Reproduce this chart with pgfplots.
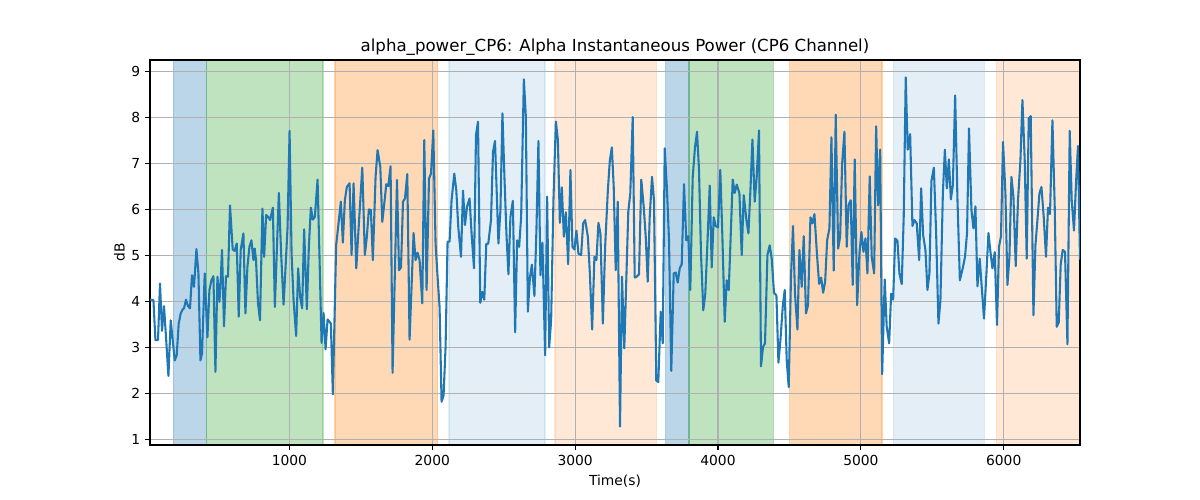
\documentclass[border=0pt]{standalone}
\usepackage{pgfplots}
\pgfplotsset{compat=1.18}
\usepackage{fontspec}
\setmainfont{DejaVu Sans}
\definecolor{tabblue}{HTML}{1F77B4}
\definecolor{tabgreen}{HTML}{2CA02C}
\definecolor{taborange}{HTML}{FF7F0E}
\definecolor{gridgray}{HTML}{B0B0B0}
\begin{document}
\begin{tikzpicture}
\begin{axis}[
  set layers, clip mode=individual,
  at={(0bp,0bp)}, anchor=south west,
  scale only axis, width=669.6bp, height=277.2bp,
  xmin=24, xmax=6534, ymin=0.88, ymax=9.25,
  xtick={1000,2000,3000,4000,5000,6000},
  ytick={1,2,3,4,5,6,7,8,9},
  xtick pos=left, ytick pos=left,
  tick align=outside, major tick length=3.5bp,
  every tick/.style={black, line width=0.8bp},
  grid=major, major grid style={gridgray, line width=0.8bp},
  axis line style={black, line width=0.8bp},
  /pgf/number format/1000 sep={},
  /pgf/number format/assume math mode=true,
  ticklabel style={font=\fontsize{10}{12}\selectfont},
  xlabel={Time(s)}, ylabel={dB},
  label style={font=\fontsize{10}{12}\selectfont},
  xlabel style={yshift=0bp},
  ylabel style={yshift=-2bp},
  title={alpha\_power\_CP6: Alpha Instantaneous Power (CP6 Channel)},
  title style={font=\fontsize{12}{14}\selectfont, yshift=-6.5bp},
]
\addplot[on layer=axis background, fill=tabblue, fill opacity=0.3, draw=tabblue, draw opacity=0.3, line width=1bp] coordinates {(188,0) (188,10) (421,10) (421,0)} \closedcycle;
\addplot[on layer=axis background, fill=tabgreen, fill opacity=0.3, draw=tabgreen, draw opacity=0.3, line width=1bp] coordinates {(421,0) (421,10) (1234,10) (1234,0)} \closedcycle;
\addplot[on layer=axis background, fill=taborange, fill opacity=0.3, draw=taborange, draw opacity=0.3, line width=1bp] coordinates {(1318,0) (1318,10) (2037,10) (2037,0)} \closedcycle;
\addplot[on layer=axis background, fill=tabblue, fill opacity=0.12, draw=tabblue, draw opacity=0.12, line width=1bp] coordinates {(2117,0) (2117,10) (2788,10) (2788,0)} \closedcycle;
\addplot[on layer=axis background, fill=taborange, fill opacity=0.17, draw=taborange, draw opacity=0.17, line width=1bp] coordinates {(2858,0) (2858,10) (3571,10) (3571,0)} \closedcycle;
\addplot[on layer=axis background, fill=tabblue, fill opacity=0.3, draw=tabblue, draw opacity=0.3, line width=1bp] coordinates {(3634,0) (3634,10) (3797,10) (3797,0)} \closedcycle;
\addplot[on layer=axis background, fill=tabgreen, fill opacity=0.3, draw=tabgreen, draw opacity=0.3, line width=1bp] coordinates {(3797,0) (3797,10) (4388,10) (4388,0)} \closedcycle;
\addplot[on layer=axis background, fill=taborange, fill opacity=0.3, draw=taborange, draw opacity=0.3, line width=1bp] coordinates {(4502,0) (4502,10) (5149,10) (5149,0)} \closedcycle;
\addplot[on layer=axis background, fill=tabblue, fill opacity=0.12, draw=tabblue, draw opacity=0.12, line width=1bp] coordinates {(5228,0) (5228,10) (5865,10) (5865,0)} \closedcycle;
\addplot[on layer=axis background, fill=taborange, fill opacity=0.17, draw=taborange, draw opacity=0.17, line width=1bp] coordinates {(5949,0) (5949,10) (6600,10) (6600,0)} \closedcycle;
\addplot[tabblue, line width=1.5bp, line join=round, mark=none] table {
x y
24 4.04
48 4.03
62 3.16
80 3.16
94 4.39
108 3.36
122 3.90
136 3.23
153 2.38
169 3.59
183 3.16
197 2.72
211 2.83
225 3.52
239 3.74
253 3.83
262 3.85
276 4.04
290 3.90
304 3.85
318 4.57
332 4.32
349 5.14
363 4.61
377 2.72
388 2.87
407 4.61
426 3.22
440 4.25
454 4.46
468 4.55
482 2.47
496 4.54
510 3.99
519 4.46
528 5.12
542 3.46
556 4.55
570 4.54
584 6.09
603 5.13
617 5.10
631 5.26
645 3.67
659 5.12
678 5.48
692 3.74
706 4.75
720 5.19
734 5.33
748 4.90
757 5.15
766 4.90
780 3.96
794 3.59
811 6.02
823 4.97
837 5.88
851 5.84
865 5.77
884 6.04
898 3.88
926 6.36
942 5.04
959 3.93
973 4.75
987 5.62
1001 7.71
1015 5.04
1029 4.03
1047 3.25
1061 4.72
1075 4.10
1089 3.85
1103 5.57
1122 3.83
1136 5.19
1150 6.04
1164 5.78
1178 5.84
1197 6.65
1211 4.90
1225 3.10
1239 3.75
1253 2.96
1267 3.61
1290 3.52
1304 1.98
1327 5.22
1341 5.62
1360 6.17
1374 5.28
1388 6.20
1402 6.49
1421 6.57
1435 5.01
1449 6.57
1468 4.72
1482 5.48
1510 6.91
1528 5.01
1542 5.41
1556 6.00
1570 5.99
1584 4.90
1603 6.71
1617 7.29
1636 6.93
1650 5.73
1664 6.13
1678 6.55
1692 6.51
1708 6.94
1722 2.45
1753 6.64
1767 4.68
1781 4.74
1795 6.17
1809 6.24
1825 6.77
1841 3.17
1869 5.49
1883 4.90
1897 5.06
1911 4.90
1930 3.96
1944 7.51
1960 4.25
1977 6.67
1991 6.78
2007 7.72
2023 5.26
2037 4.54
2051 3.88
2065 1.82
2079 1.96
2093 3.01
2107 5.30
2121 5.30
2135 6.20
2154 6.78
2168 6.42
2182 5.62
2201 4.97
2215 6.41
2229 5.66
2243 6.06
2261 6.24
2275 5.48
2292 4.72
2306 7.62
2320 7.91
2336 3.97
2350 4.21
2364 4.04
2378 5.25
2392 5.26
2411 5.77
2425 7.25
2439 7.49
2463 5.26
2477 5.99
2491 8.09
2505 6.71
2519 5.48
2533 4.59
2547 5.84
2564 6.19
2580 3.33
2594 5.33
2608 5.19
2622 5.84
2641 8.83
2655 8.01
2669 3.78
2683 4.50
2697 4.80
2715 4.12
2729 5.55
2743 7.49
2757 4.57
2771 5.28
2790 2.83
2804 6.28
2818 3.00
2832 3.59
2848 6.20
2865 7.91
2879 7.52
2893 5.71
2907 6.48
2921 5.41
2935 5.94
2951 4.81
2967 6.86
2981 5.19
2995 5.13
3009 5.54
3023 5.04
3042 5.01
3056 5.70
3070 5.77
3089 5.41
3103 4.61
3119 3.39
3135 4.97
3149 4.90
3163 5.71
3177 5.48
3194 3.52
3210 5.19
3229 6.42
3243 7.07
3257 7.35
3270 6.49
3284 4.68
3298 6.17
3314 1.28
3328 4.54
3344 2.98
3372 5.95
3386 6.35
3403 8.01
3417 4.52
3431 4.54
3447 4.59
3463 6.65
3480 6.06
3494 5.41
3508 4.43
3522 5.84
3538 6.71
3552 6.20
3568 2.28
3582 2.25
3599 3.78
3613 3.09
3627 7.33
3643 6.42
3657 5.33
3673 2.49
3690 4.61
3704 4.63
3718 4.41
3732 4.72
3746 4.81
3762 6.55
3778 5.33
3792 5.42
3806 4.25
3823 6.71
3839 7.35
3853 7.69
3867 6.86
3881 5.04
3897 3.81
3911 4.17
3925 5.19
3942 6.52
3956 4.74
3970 5.83
3984 5.64
4000 5.61
4016 6.86
4030 5.48
4047 3.56
4061 4.46
4075 4.25
4082 4.83
4103 6.65
4117 6.36
4131 6.54
4150 6.35
4166 5.01
4180 6.31
4199 5.77
4213 5.48
4227 6.42
4241 7.52
4257 6.17
4271 6.71
4287 7.72
4301 2.59
4315 3.01
4329 3.09
4346 5.01
4362 5.22
4376 4.93
4392 4.19
4409 4.13
4423 2.67
4437 3.16
4453 3.88
4467 4.25
4481 2.72
4495 2.14
4511 4.54
4525 5.64
4539 4.17
4556 3.39
4570 5.12
4586 4.32
4600 5.42
4616 3.74
4630 3.92
4647 5.83
4661 5.70
4675 5.90
4694 4.97
4708 4.38
4722 4.52
4736 4.19
4750 4.43
4764 5.33
4780 5.59
4794 7.57
4810 4.67
4824 8.06
4841 5.15
4855 5.41
4869 7.00
4885 7.69
4901 5.19
4913 6.09
4929 6.20
4943 4.36
4957 7.09
4974 3.92
4990 5.04
5004 5.51
5018 5.08
5032 5.37
5046 4.61
5062 6.72
5076 4.97
5093 4.61
5107 7.81
5121 6.09
5135 7.30
5149 2.42
5167 4.48
5181 3.45
5198 3.09
5212 4.17
5226 4.04
5240 5.37
5256 5.32
5270 4.61
5286 4.38
5300 5.84
5314 8.87
5328 7.30
5345 7.64
5361 5.64
5375 5.77
5391 5.70
5408 4.90
5422 6.46
5436 5.44
5452 5.12
5466 4.25
5480 4.61
5494 6.62
5511 6.91
5527 5.48
5543 3.52
5557 4.03
5574 6.35
5588 7.30
5602 6.46
5616 7.09
5630 6.22
5644 6.53
5660 8.48
5676 6.24
5693 4.46
5715 4.75
5729 4.97
5743 5.48
5757 7.76
5774 5.99
5788 5.59
5802 6.07
5816 4.33
5832 4.93
5846 4.32
5862 3.63
5879 4.61
5893 5.49
5907 5.08
5921 4.72
5937 5.07
5953 3.49
5967 5.19
5981 5.42
5995 7.47
6012 6.35
6026 4.36
6040 4.97
6054 6.71
6068 6.28
6084 4.77
6100 6.20
6117 7.07
6131 8.38
6147 7.07
6161 4.93
6175 7.98
6189 8.03
6208 3.70
6222 5.22
6236 5.77
6250 6.35
6264 6.49
6280 5.84
6296 4.97
6310 6.04
6324 5.90
6341 7.94
6357 6.06
6371 3.45
6385 3.54
6399 4.81
6413 5.12
6429 5.08
6446 3.07
6462 7.71
6476 6.20
6492 5.54
6506 6.57
6520 7.38
6534 4.91
};
\end{axis}
\pgfresetboundingbox
\path[use as bounding box] (-108bp,-39.6bp) rectangle (756bp,320.4bp);
\end{tikzpicture}
\end{document}
